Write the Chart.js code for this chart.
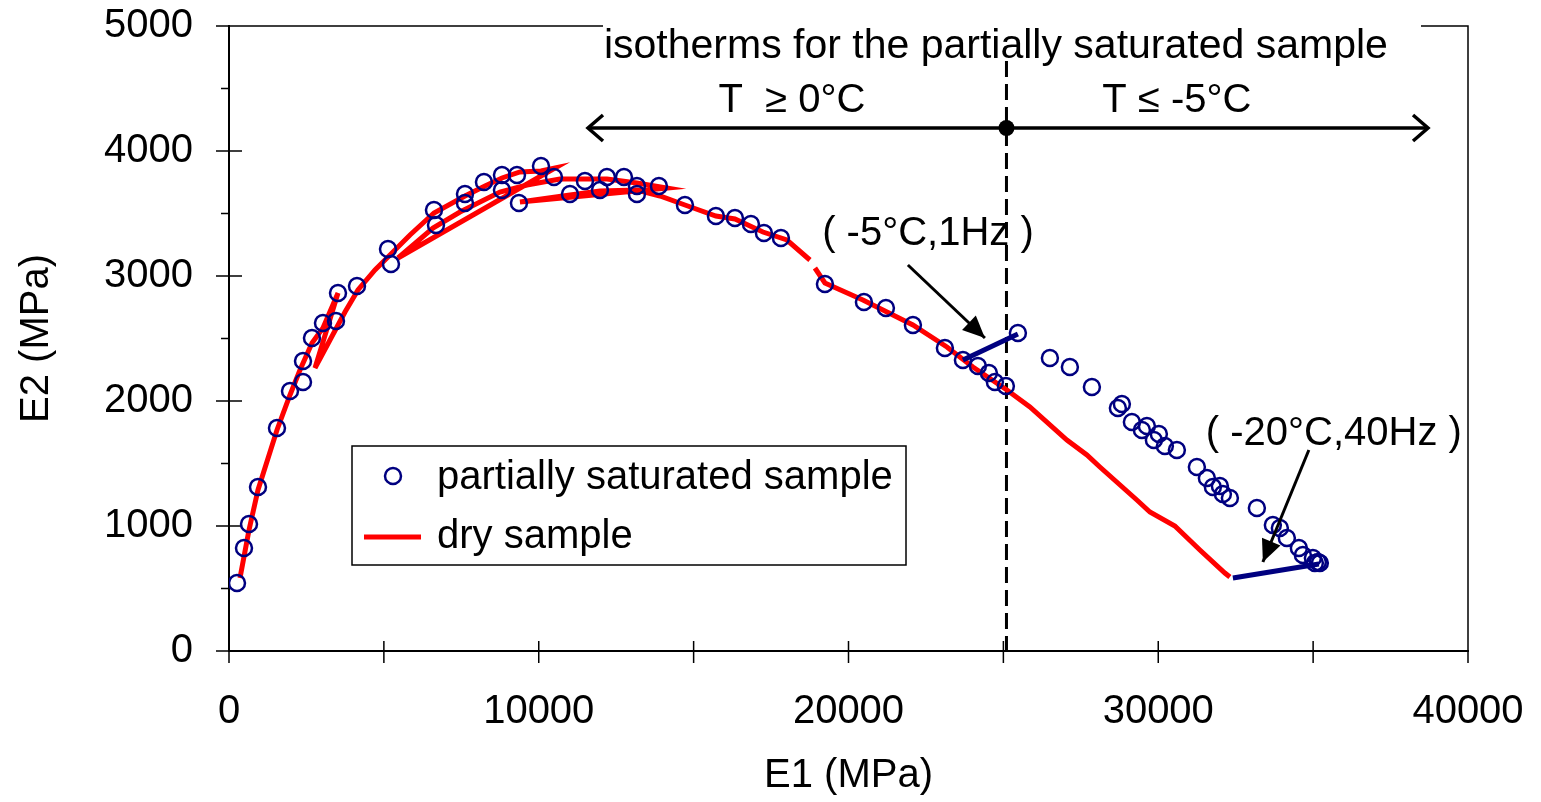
<!DOCTYPE html>
<html>
<head>
<meta charset="utf-8">
<script src="https://cdn.jsdelivr.net/npm/chart.js@4.4.0/dist/chart.umd.min.js"></script>
<style>
  html, body { margin: 0; padding: 0; background: #fff; }
  #wrap { width: 1541px; height: 802px; }
</style>
</head>
<body>
<div id="wrap"><canvas id="chart"></canvas></div>
<script>
// partially saturated sample: E1 / E2 (MPa)
const wetE1 = [258, 484, 646, 936, 1549, 1969, 2389, 2389, 2679, 3034, 3454, 3519, 4132, 5133, 5229,
  6617, 6682, 7618, 7618, 8231, 8812, 8812, 9297, 9361, 10072, 10491, 11008, 11492, 11976, 12202,
  12751, 13170, 13170, 13880, 14720, 15720, 16334, 16850, 17270, 17819, 19239, 20498, 21208, 22080,
  23112, 23694, 24178, 24533, 24726, 25081, 25469, 26502, 27147, 27858, 28697, 28826, 29149, 29472,
  29633, 29859, 30020, 30214, 30601, 31247, 31570, 31764, 31990, 32087, 32313, 33184, 33700, 33926,
  34152, 34540, 34669, 34992, 35153, 35217, 35056];
const wetE2 = [544, 824, 1016, 1312, 1784, 2080, 2152, 2320, 2504, 2624, 2640, 2864, 2920, 3216, 3096,
  3528, 3408, 3656, 3584, 3752, 3808, 3688, 3808, 3584, 3880, 3792, 3656, 3760, 3688, 3792,
  3792, 3720, 3656, 3720, 3568, 3480, 3464, 3416, 3344, 3304, 2936, 2792, 2744, 2608,
  2424, 2328, 2280, 2224, 2152, 2120, 2544, 2344, 2272, 2112, 1944, 1976, 1832, 1768,
  1800, 1688, 1736, 1640, 1608, 1472, 1384, 1312, 1320, 1256, 1224, 1144, 1008, 984,
  904, 824, 768, 744, 712, 704, 704];

// dry sample (isotherms joined in measuring order), null = break in the curve
const dryE1 = [355, 646, 936, 1549, 1969, 2292, 2679, 3034, 3519,
  2776, 3260, 3745, 4164, 4713, 5197, 5843, 6617, 7618, 8264, 8812, 9393, 10072, 10523,
  5455, 6585, 7457, 8748, 9619, 10685, 12202, 13170, 14139,
  9393, 11008, 11976, 13170, 13913, 14720, 15720, 16334, 17238, 18012, 18755, 18830,
  18916, 19239, 20466, 22080, 23177, 24016, 25114, 25857, 27051, 27697, 28116, 29310, 29730,
  30537, 31344, 32151, 32313];
const dryE2 = [584, 968, 1288, 1768, 2048, 2248, 2464, 2584, 2864,
  2264, 2488, 2712, 2888, 3048, 3168, 3328, 3504, 3640, 3720, 3784, 3832, 3840, 3864,
  3144, 3384, 3512, 3672, 3728, 3776, 3776, 3744, 3704,
  3592, 3648, 3680, 3688, 3640, 3568, 3480, 3456, 3352, 3288, 3128, null,
  3064, 2944, 2808, 2608, 2432, 2272, 2088, 1952, 1688, 1568, 1472, 1208, 1112,
  1000, 808, 624, 592];

// end segments of the (-5°C,1Hz) and (-20°C,40Hz) isotherms
const seg5E1 = [23694, 25469];
const seg5E2 = [2328, 2536];
const seg20E1 = [32410, 35185];
const seg20E2 = [584, 696];

const xTicks = [0, 10000, 20000, 30000, 40000];
const yTicks = [0, 1000, 2000, 3000, 4000, 5000];

const FONT = '"Liberation Sans", Arial, sans-serif';
const NAVY = '#000080';
const pts = (xs, ys) => xs.map((x, i) => ({ x: x, y: ys[i] }));

function arrow(ctx, x1, y1, x2, y2, len, half, filled) {
  const ang = Math.atan2(y2 - y1, x2 - x1);
  ctx.beginPath();
  ctx.moveTo(x1, y1);
  ctx.lineTo(x2, y2);
  ctx.stroke();
  const ax = x2 - len * Math.cos(ang), ay = y2 - len * Math.sin(ang);
  const px = -Math.sin(ang) * half, py = Math.cos(ang) * half;
  ctx.beginPath();
  ctx.moveTo(ax + px, ay + py);
  ctx.lineTo(x2, y2);
  ctx.lineTo(ax - px, ay - py);
  if (filled) { ctx.closePath(); ctx.fill(); } else ctx.stroke();
}

const extras = {
  id: 'extras',
  beforeDatasetsDraw(chart) {
    const { ctx, chartArea: a, scales: { x, y } } = chart;
    ctx.save();
    ctx.strokeStyle = '#000';
    ctx.lineWidth = 1.5;
    ctx.beginPath();
    ctx.moveTo(a.left - 13, a.top); ctx.lineTo(a.right, a.top); ctx.lineTo(a.right, a.bottom);
    // y ticks: majors cross the axis, minors outside only
    for (let v = 0; v <= 5000; v += 500) {
      const py = y.getPixelForValue(v);
      const major = v % 1000 === 0;
      ctx.moveTo(a.left - (major ? 13 : 8), py);
      ctx.lineTo(a.left + (major ? 13 : 0), py);
    }
    for (let v = 0; v <= 40000; v += 5000) {
      const px = x.getPixelForValue(v);
      ctx.moveTo(px, a.bottom - 10);
      ctx.lineTo(px, a.bottom + 12);
    }
    ctx.stroke();

    // boundary between the two temperature ranges
    ctx.lineWidth = 3;
    ctx.setLineDash([16, 7]);
    const bx = x.getPixelForValue(25100);
    ctx.beginPath();
    ctx.moveTo(bx, y.getPixelForValue(4720));
    ctx.lineTo(bx, a.bottom);
    ctx.stroke();
    ctx.restore();
  },
  afterDatasetsDraw(chart) {
    const { ctx, scales: { x, y } } = chart;
    const X = v => x.getPixelForValue(v), Y = v => y.getPixelForValue(v);
    ctx.save();
    ctx.font = '41px ' + FONT;
    ctx.textAlign = 'center';
    ctx.textBaseline = 'alphabetic';
    ctx.fillStyle = '#fff';
    ctx.fillRect(603, 16, 818, 20);
    ctx.fillStyle = '#000';
    ctx.fillText('isotherms for the partially saturated sample', X(24759), Y(4744));
    ctx.font = '40px ' + FONT;
    ctx.fillText('T  \u2265 0\u00b0C', X(18174), Y(4312));
    ctx.fillText('T \u2264 -5\u00b0C', X(30601), Y(4312));
    ctx.fillText('( -5\u00b0C,1Hz )', X(22564), Y(3248));
    ctx.fillText('( -20\u00b0C,40Hz )', X(35669), Y(1648));

    // range arrow with the dot at the boundary
    ctx.strokeStyle = '#000';
    ctx.lineWidth = 3.5;
    const ay = Y(4184), mid = X(25100);
    arrow(ctx, mid, ay, X(11590), ay, 15, 13, false);
    arrow(ctx, mid, ay, X(38709), ay, 15, 13, false);
    ctx.beginPath();
    ctx.arc(mid, ay, 8, 0, Math.PI * 2);
    ctx.fill();

    // pointers to the end segments
    ctx.lineWidth = 3;
    arrow(ctx, X(21918), Y(3088), X(24404), Y(2504), 22, 10, true);
    arrow(ctx, X(34862), Y(1608), X(33378), Y(712), 22, 10, true);

    // legend box
    ctx.fillStyle = '#fff';
    ctx.fillRect(352, 446, 554, 119);
    ctx.lineWidth = 1.5;
    ctx.strokeRect(352, 446, 554, 119);
    const ds = chart.data.datasets;
    ctx.strokeStyle = NAVY;
    ctx.lineWidth = 2.5;
    ctx.beginPath();
    ctx.arc(393, 476, 8, 0, Math.PI * 2);
    ctx.stroke();
    ctx.strokeStyle = 'red';
    ctx.lineWidth = 5;
    ctx.beginPath();
    ctx.moveTo(364, 537); ctx.lineTo(421, 537);
    ctx.stroke();
    ctx.fillStyle = '#000';
    ctx.textAlign = 'left';
    ctx.textBaseline = 'middle';
    ctx.fillText(ds[0].label, 437, 478);
    ctx.fillText(ds[3].label, 437, 537);
    ctx.restore();
  }
};

new Chart(document.getElementById('chart'), {
  type: 'scatter',
  data: {
    datasets: [
      {
        label: 'partially saturated sample',
        data: pts(wetE1, wetE2),
        showLine: false,
        pointStyle: 'circle',
        pointRadius: 8,
        pointBorderWidth: 2.5,
        borderColor: NAVY,
        backgroundColor: 'rgba(0,0,0,0)'
      },
      {
        label: 'seg5',
        data: pts(seg5E1, seg5E2),
        showLine: true,
        borderColor: NAVY,
        borderWidth: 5,
        pointRadius: 0
      },
      {
        label: 'seg20',
        data: pts(seg20E1, seg20E2),
        showLine: true,
        borderColor: NAVY,
        borderWidth: 5,
        pointRadius: 0
      },
      {
        label: 'dry sample',
        data: pts(dryE1, dryE2),
        showLine: true,
        spanGaps: false,
        borderColor: '#ff0000',
        borderWidth: 5,
        pointRadius: 0
      }
    ]
  },
  options: {
    responsive: true,
    maintainAspectRatio: false,
    animation: false,
    layout: { padding: { left: 0, right: 73, top: 26, bottom: 0 } },
    plugins: {
      legend: { display: false },
      tooltip: { enabled: false }
    },
    scales: {
      x: {
        type: 'linear',
        min: 0,
        max: 40000,
        afterFit: s => { s.height = 151; s.paddingLeft = 0; s.paddingRight = 0; },
        afterBuildTicks: s => { s.ticks = xTicks.map(v => ({ value: v })); },
        grid: { display: false, drawTicks: false },
        border: { display: true, color: '#000', width: 2 },
        ticks: {
          padding: 37,
          color: '#000',
          font: { family: FONT, size: 40 },
          callback: v => String(v)
        },
        title: {
          display: true,
          text: 'E1 (MPa)',
          color: '#000',
          font: { family: FONT, size: 40 },
          padding: { top: 0, bottom: 2 }
        }
      },
      y: {
        type: 'linear',
        min: 0,
        max: 5000,
        afterFit: s => { s.width = 229; s.paddingTop = 0; s.paddingBottom = 0; },
        afterBuildTicks: s => { s.ticks = yTicks.map(v => ({ value: v })); },
        grid: { display: false, drawTicks: false },
        border: { display: true, color: '#000', width: 2 },
        ticks: {
          padding: 36,
          color: '#000',
          font: { family: FONT, size: 40 },
          callback: v => String(v)
        },
        title: {
          display: true,
          text: 'E2 (MPa)',
          color: '#000',
          font: { family: FONT, size: 40 },
          padding: { top: 13, bottom: 0 }
        }
      }
    }
  },
  plugins: [extras]
});
</script>
</body>
</html>
